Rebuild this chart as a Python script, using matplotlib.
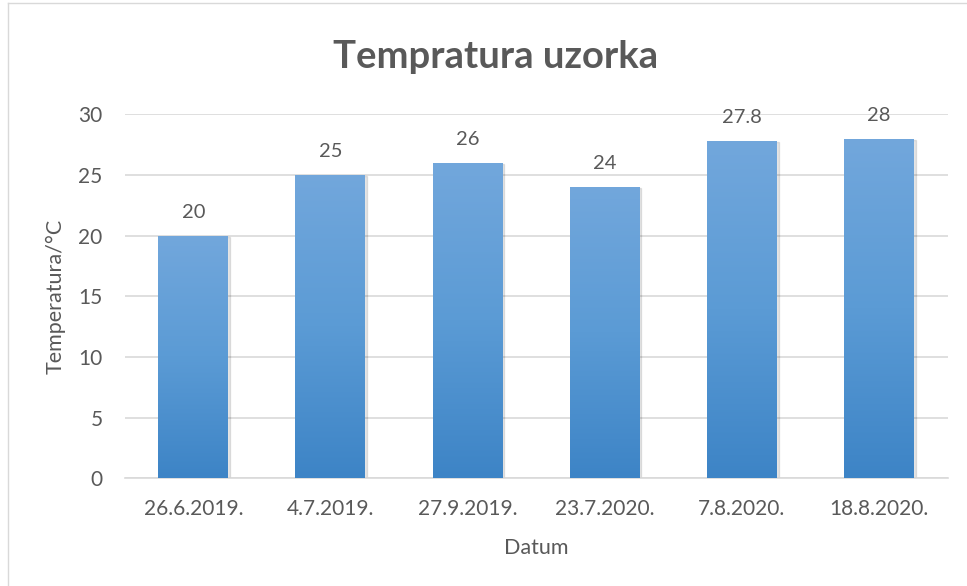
import numpy as np
import matplotlib.pyplot as plt
from matplotlib.colors import LinearSegmentedColormap
from matplotlib.patches import Rectangle
from matplotlib.lines import Line2D

dates = ['26.6.2019.', '4.7.2019.', '27.9.2019.', '23.7.2020.', '7.8.2020.', '18.8.2020.']
temps = [20, 25, 26, 24, 27.8, 28]

plt.rcParams['font.family'] = ['Lato', 'DejaVu Sans']
txt = '#595959'

fig = plt.figure(figsize=(9.67, 5.86), dpi=100)
ax = fig.add_axes([0.129, 0.184, 0.851, 0.621])

ind = np.arange(len(dates))
bars = ax.bar(ind, temps, 0.51, color='none', zorder=3)

# gradient fill, lighter at the top like the Excel default
cmap = LinearSegmentedColormap.from_list('grad', ['#3d84c6', '#5b9bd5', '#72a7dc'])
grad = np.linspace(0, 1, 256).reshape(-1, 1)
for b, t in zip(bars, temps):
    x0, y0 = b.get_x(), b.get_y()
    w, h = b.get_width(), b.get_height()
    sh = Rectangle((x0 + 0.012, y0), w, h - 0.1, color='#000000', alpha=0.10, zorder=2)
    ax.add_patch(sh)
    im = ax.imshow(grad, cmap=cmap, origin='lower', aspect='auto',
                   extent=(x0, x0 + w, y0, y0 + h), zorder=3)
    im.set_clip_path(b)
    ax.text(x0 + w / 2, h + 1.2, f'{t:g}', ha='center', va='bottom',
            fontsize=14.5, color=txt)

ax.set_xlim(-0.5, len(dates) - 0.5)
ax.set_ylim(0, 30)
ax.set_yticks(np.arange(0, 31, 5))
ax.set_xticks(ind, dates)
ax.yaxis.grid(True, color='#d9d9d9', linewidth=1.2, zorder=0)
ax.set_axisbelow(True)
for s in ['top', 'right', 'left']:
    ax.spines[s].set_visible(False)
ax.spines['bottom'].set_color('#d9d9d9')
ax.spines['bottom'].set_linewidth(1.2)
ax.tick_params(length=0, labelsize=15, colors=txt)
ax.tick_params(axis='x', pad=15)
ax.tick_params(axis='y', pad=16)

ax.set_xlabel('Datum', fontsize=15.5, color=txt, labelpad=14)
ax.set_ylabel('Temperatura/°C', fontsize=15.5, color=txt, labelpad=9)
fig.text(0.512, 0.903, 'Tempratura uzorka', ha='center', va='center',
         fontsize=27.5, fontweight='bold', color=txt)

# chart frame, only left and top edges visible in the crop
fig.add_artist(Line2D([0.008, 0.008], [0, 0.995], transform=fig.transFigure,
                      color='#d9d9d9', linewidth=1))
fig.add_artist(Line2D([0.008, 1], [0.995, 0.995], transform=fig.transFigure,
                      color='#d9d9d9', linewidth=1))

fig.savefig('out.png', dpi=100)
